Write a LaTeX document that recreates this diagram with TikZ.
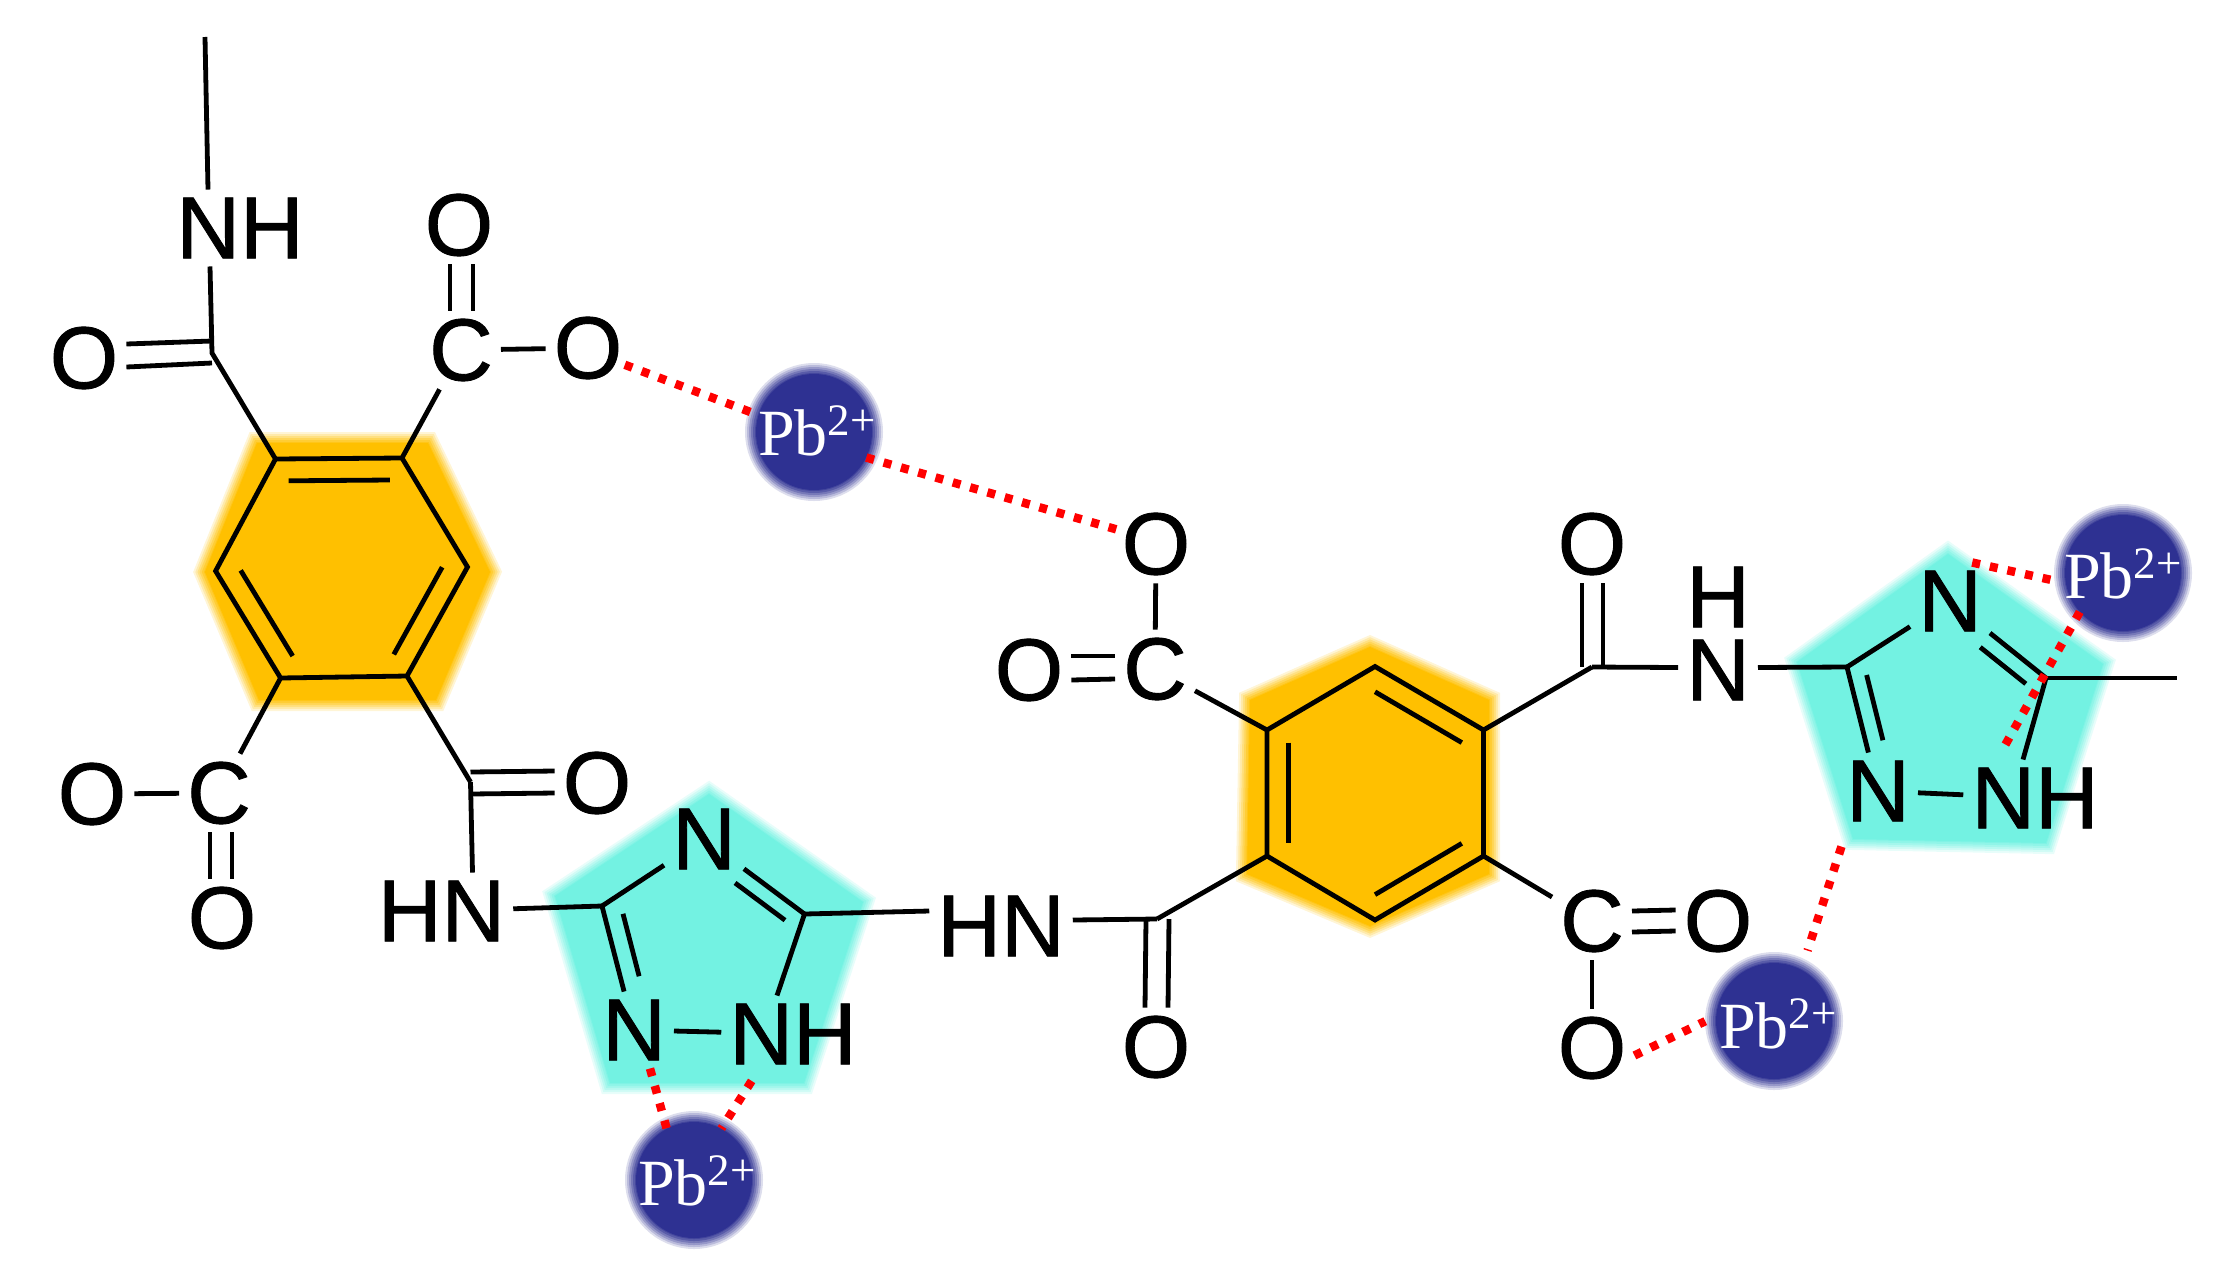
\documentclass[tikz,border=0pt]{standalone}
\usepackage{fontspec}
\setmainfont{Liberation Sans}
\newfontfamily\atomfont[FakeBold=1]{Liberation Sans}
\newfontfamily\ionfont{Liberation Serif}
\usetikzlibrary{calc}
\definecolor{ringorange}{HTML}{FFC000}
\definecolor{ringcyan}{HTML}{73F2E2}
\definecolor{ionblue}{HTML}{2E3192}
\newcommand{\pbion}[1][0pt]{\makebox[0pt]{\hspace*{#1}\ionfont\fontsize{66}{66}\selectfont Pb\raisebox{20pt}{\fontsize{45}{45}\selectfont 2+}}}
\tikzset{
  atom/.style={inner sep=8pt, font=\atomfont\fontsize{88}{88}\selectfont},
  bond/.style={draw=black, line width=4.8pt},
  pbdots/.style={draw=red, line width=8.5pt, dash pattern=on 8pt off 10pt},
  glow/.style={fill=#1, line join=round,
    preaction={draw=#1, draw opacity=.16, line width=22pt},
    preaction={draw=#1, draw opacity=.2, line width=18pt},
    preaction={draw=#1, draw opacity=.25, line width=14pt},
    preaction={draw=#1, draw opacity=.3, line width=10pt},
    preaction={draw=#1, draw opacity=.4, line width=6pt},
    preaction={draw=#1, draw opacity=.5, line width=2pt}},
  ion/.style={circle, minimum size=116pt, inner sep=0pt, text=white, text height=50pt, text depth=0pt, glow=ionblue}
}
\begin{document}
\begin{tikzpicture}[x=1pt, y=-1pt]
  \useasboundingbox (0,0) rectangle (2213,1275);

  % shaded rings
  \path[glow=ringorange] (257,443) -- (428,443) -- (490,572) -- (436,700) -- (259,700) -- (205,572) -- cycle;
  \path[glow=ringorange] (1370,647) -- (1489,700) -- (1489,874) -- (1370,926) -- (1247,874) -- (1250,700) -- cycle;
  \path[glow=ringcyan] (709,794) -- (863,902) -- (804,1083) -- (610,1083) -- (555,896) -- cycle;
  \path[glow=ringcyan] (1948,554) -- (2103,664) -- (2046,843) -- (1853,839) -- (1797,662) -- cycle;

  % left unit
  \coordinate (me1) at (205,37);
  \coordinate (ca1) at (212,353);
  \coordinate (a1) at (275.5,459);
  \coordinate (a2) at (402,458);
  \coordinate (a3) at (467.5,567);
  \coordinate (a4) at (407,676);
  \coordinate (a5) at (280.6,678);
  \coordinate (a6) at (215.6,571);
  \coordinate (ca) at (341,568);
  \coordinate (cd1) at (470.5,782);
  \node[atom] (nh1) at (240,228) {NH};
  \node[atom] (oa1) at (84,358) {O};
  \node[atom] (cb1) at (461,350) {C};
  \node[atom] (ob1) at (459,225) {O};
  \node[atom] (ob2) at (588,348) {O};
  \node[atom] (cc1) at (219,793) {C};
  \node[atom] (oc1) at (92,794) {O};
  \node[atom] (oc2) at (222,918) {O};
  \node[atom] (od1) at (597,783) {O};
  \node[atom] (hn1) at (441.5,911) {HN};

  \draw[bond] (me1) -- ([xshift=-32pt]nh1.north);
  \draw[bond] ([xshift=-30pt]nh1.south) -- (ca1) -- (a1);
  \draw[bond] ([yshift=14pt]oa1.east) -- ([yshift=12pt]ca1);
  \draw[bond] ([yshift=-9pt]oa1.east) -- ([yshift=-10pt]ca1);
  \draw[bond] (a1) -- (a2) -- (a3) -- (a4) -- (a5) -- (a6) -- cycle;
  \draw[bond] ($(ca)!.8!(a1)$) -- ($(ca)!.8!(a2)$);
  \draw[bond] ($(ca)!.8!(a6)$) -- ($(ca)!.8!(a5)$);
  \draw[bond] ($(ca)!.8!(a3)$) -- ($(ca)!.8!(a4)$);
  \draw[bond] (a2) -- (cb1);
  \draw[bond] (cb1) -- (ob2);
  \draw[bond] ([xshift=-9pt]ob1.south) -- ([xshift=-11pt]cb1.north);
  \draw[bond] ([xshift=14pt]ob1.south) -- ([xshift=12pt]cb1.north);
  \draw[bond] (a5) -- (cc1);
  \draw[bond] (oc1) -- (cc1);
  \draw[bond] ([xshift=-9pt]cc1.south) -- ([xshift=-12pt]oc2.north);
  \draw[bond] ([xshift=13pt]cc1.south) -- ([xshift=10pt]oc2.north);
  \draw[bond] (a4) -- (cd1);
  \draw[bond] ([yshift=10pt]cd1) -- ([yshift=12pt]od1.west);
  \draw[bond] ([yshift=-12pt]cd1) -- ([yshift=-10pt]od1.west);
  \draw[bond] (cd1) -- ([xshift=31pt]hn1.north);

  % left triazole
  \coordinate (t1) at (602,906);
  \coordinate (t2) at (804.5,914);
  \coordinate (ct1) at (707,945);
  \node[atom] (n1) at (704,839) {N};
  \node[atom] (n2) at (634,1030) {N};
  \node[atom] (nh2) at (793,1034) {NH};
  \node[atom] (hn2) at (1001,926) {HN};

  \draw[bond] (hn1) -- (t1);
  \draw[bond] (t1) -- (n1);
  \draw[bond] (n1) -- (t2);
  \draw[bond, shorten <=38pt] ($(ct1)!.8!(n1)$) -- ($(ct1)!.8!(t2)$);
  \draw[bond] (t1) -- (n2);
  \draw[bond, shorten >=38pt] ($(ct1)!.8!(t1)$) -- ($(ct1)!.8!(n2)$);
  \draw[bond] (t2) -- ([xshift=-16pt]nh2.north);
  \draw[bond] (n2) -- (nh2);
  \draw[bond] (t2) -- ([yshift=15pt]hn2.west);

  % right unit
  \coordinate (b1) at (1375,666.5);
  \coordinate (b2) at (1483.5,730);
  \coordinate (b3) at (1483.5,856);
  \coordinate (b4) at (1375,920);
  \coordinate (b5) at (1267,856);
  \coordinate (b6) at (1267,730);
  \coordinate (cb) at (1375,793);
  \coordinate (cg1) at (1592,667);
  \coordinate (ce1) at (1157,919);
  \node[atom] (cf1) at (1155,669) {C};
  \node[atom] (of1) at (1156,544) {O};
  \node[atom] (of2) at (1029,670) {O};
  \node[atom] (og1) at (1592,544) {O};
  \node[atom, align=center] (n5) at (1718,633.5) {H\\[-15pt]N};
  \node[atom] (ch1) at (1592,921) {C};
  \node[atom] (oh1) at (1718,921) {O};
  \node[atom] (oh2) at (1592,1048) {O};
  \node[atom] (oe1) at (1156,1047) {O};

  \draw[bond] (b1) -- (b2) -- (b3) -- (b4) -- (b5) -- (b6) -- cycle;
  \draw[bond] ($(cb)!.8!(b1)$) -- ($(cb)!.8!(b2)$);
  \draw[bond] ($(cb)!.8!(b6)$) -- ($(cb)!.8!(b5)$);
  \draw[bond] ($(cb)!.8!(b4)$) -- ($(cb)!.8!(b3)$);
  \draw[bond] (b6) -- (cf1);
  \draw[bond] (of1) -- (cf1);
  \draw[bond] ([yshift=14pt]of2.east) -- ([yshift=13pt]cf1.west);
  \draw[bond] ([yshift=-10pt]of2.east) -- ([yshift=-10pt]cf1.west);
  \draw[bond] (b2) -- (cg1);
  \draw[bond] ([xshift=-10pt]og1.south) -- ([xshift=-10pt]cg1);
  \draw[bond] ([xshift=11pt]og1.south) -- ([xshift=11pt]cg1);
  \draw[bond] (cg1) -- ([yshift=-34pt]n5.west);
  \draw[bond] (b3) -- (ch1);
  \draw[bond] ([yshift=10pt]ch1.east) -- ([yshift=11pt]oh1.west);
  \draw[bond] ([yshift=-11pt]ch1.east) -- ([yshift=-10pt]oh1.west);
  \draw[bond] (ch1) -- (oh2);
  \draw[bond] (b5) -- (ce1);
  \draw[bond] ([yshift=6pt]hn2.east) -- (ce1);
  \draw[bond] ([xshift=-11pt]ce1) -- ([xshift=-11pt]oe1.north);
  \draw[bond] ([xshift=12pt]ce1) -- ([xshift=12pt]oe1.north);

  % right triazole
  \coordinate (t3) at (1847,667);
  \coordinate (t4) at (2046,678);
  \coordinate (me2) at (2177,678);
  \coordinate (ct2) at (1945,707);
  \node[atom] (n3) at (1950,601) {N};
  \node[atom] (n4) at (1878,791) {N};
  \node[atom] (nh4) at (2035,798) {NH};

  \draw[bond] ([yshift=-34pt]n5.east) -- (t3);
  \draw[bond] (t3) -- (n3);
  \draw[bond] (n3) -- (t4);
  \draw[bond, shorten <=40pt] ($(ct2)!.8!(n3)$) -- ($(ct2)!.8!(t4)$);
  \draw[bond] (t3) -- (n4);
  \draw[bond, shorten >=35pt] ($(ct2)!.8!(t3)$) -- ($(ct2)!.8!(n4)$);
  \draw[bond] (t4) -- ([xshift=-12pt]nh4.north);
  \draw[bond] (n4) -- (nh4);
  \draw[bond] (t4) -- (me2);

  % lead ions
  \node[ion, text height=46pt] (pb1) at (814,432) {\pbion[6pt]};
  \node[ion] (pb2) at (694,1180) {\pbion[6pt]};
  \node[ion] (pb3) at (2123,573) {\pbion};
  \node[ion, text height=54pt] (pb4) at (1774,1021) {\pbion[8pt]};

  \draw[pbdots, shorten <=-6pt] (ob2.-24) -- (pb1.163);
  \draw[pbdots, shorten >=-8pt] (pb1.-26) -- (of1.160);
  \draw[pbdots] ([xshift=16pt]n2.south) -- (pb2.118);
  \draw[pbdots, shorten <=10pt] ([xshift=-36pt]nh2.south) -- (pb2.62);
  \draw[pbdots, shorten >=12pt] (n3.60) -- (pb3.190);
  \draw[pbdots, shorten >=14pt] (pb3.222) -- ([xshift=-38pt]nh4.north);
  \draw[pbdots, shorten <=18pt, shorten >=20pt] ([xshift=9pt]n4.south west) -- (pb4.62);
  \draw[pbdots, shorten >=12pt] (oh2.-10) -- (pb4.175);
\end{tikzpicture}
\end{document}
